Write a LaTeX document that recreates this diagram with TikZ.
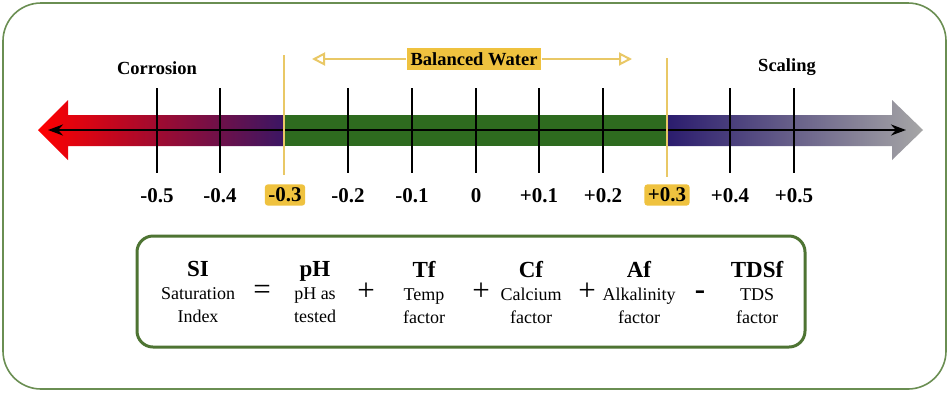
\documentclass[tikz,border=0pt]{standalone}
\usepackage{fontspec}
\setmainfont{Liberation Serif}
\usetikzlibrary{arrows.meta}
\definecolor{framegreen}{HTML}{6A8E52}
\definecolor{boxgreen}{HTML}{4E7433}
\definecolor{bargreen}{HTML}{2E6B1F}
\definecolor{gold}{HTML}{EFC23F}
\definecolor{goldline}{HTML}{E9C866}
\definecolor{darkpurple}{HTML}{3A1664}
\definecolor{navy}{HTML}{2B1C6E}
\definecolor{midred}{HTML}{9A1230}
\tikzset{
  tick/.style={line width=2.6pt, black},
  goldvline/.style={line width=2.4pt, goldline},
  ticklabel/.style={font=\fontsize{21}{22}\selectfont\bfseries, inner sep=2pt},
  goldlabel/.style={ticklabel, fill=gold, rounded corners=3pt, inner sep=3.5pt},
  heading/.style={font=\fontsize{18.5}{20}\selectfont\bfseries},
  term/.style={font=\fontsize{18}{23}\selectfont, align=center, inner sep=0pt},
  op/.style={font=\fontsize{31}{30}\selectfont, inner sep=0pt},
}
\newcommand{\termtitle}[1]{{\fontsize{23}{23}\selectfont\bfseries #1}}
\begin{document}
\begin{tikzpicture}[x=1pt,y=-1pt]
\useasboundingbox (0,0) rectangle (949,392);
% outer frame
\draw[framegreen, line width=1.6pt, rounded corners=38pt, fill=white] (3,3) rectangle (946,389);
% left (corrosion) arrow
\shade[left color=red, middle color=midred, right color=darkpurple]
  (38,130) -- (68,100) -- (68,115) -- (285,115) -- (285,146) -- (68,146) -- (68,160) -- cycle;
% balanced band
\fill[bargreen] (284,115) rectangle (668,146);
% right (scaling) arrow
\shade[left color=navy, middle color=navy!50!gray!80, right color=gray!70]
  (667,115) -- (892,115) -- (892,100) -- (923,130) -- (892,160) -- (892,146) -- (667,146) -- cycle;
% axis
\coordinate (axL) at (48,130);
\coordinate (axR) at (906,130);
\draw[line width=2.2pt, {Stealth[length=15pt,width=11pt]}-{Stealth[length=15pt,width=11pt]}] (axL) -- (axR);
% ticks and labels
\foreach \x/\lab/\nm in {157/-0.5/m5, 220/-0.4/m4, 348/-0.2/m2, 412/-0.1/m1, 476/0/z, 539/+0.1/p1, 603/+0.2/p2, 730/+0.4/p4, 794/+0.5/p5}{
  \draw[tick] (\x,88) -- (\x,173);
  \node[ticklabel] (l\nm) at (\x,196) {\lab};
}
\draw[goldvline] (284,55) -- (284,175);
\draw[goldvline] (667,58) -- (667,177);
\node[goldlabel] (lm3) at (285,195) {-0.3};
\node[goldlabel] (lp3) at (667,195) {+0.3};
% headings
\node[heading] (corr) at (157,68) {Corrosion};
\node[heading] (scal) at (787,67) {Scaling};
% balanced water
\node[heading, fill=gold, inner sep=4pt] (bw) at (474,59) {Balanced Water};
\coordinate (bwL) at (312,59);
\coordinate (bwR) at (632,59);
\draw[goldline, line width=2pt, -{Triangle[open,length=13pt,width=13pt]}] (bw.west) -- (bwL);
\draw[goldline, line width=2pt, -{Triangle[open,length=13pt,width=13pt]}] (bw.east) -- (bwR);
% formula box
\draw[boxgreen, line width=3pt, rounded corners=16pt] (137,236) rectangle (805,347);
\node[term] (si) at (198,292) {\termtitle{SI}\\Saturation\\Index};
\node[op] (eq) at (262,292) {=};
\node[term] (ph) at (315,292) {\termtitle{pH}\\pH as\\tested};
\node[op] (pl1) at (366,292) {+};
\node[term] (tf) at (424,292) {\termtitle{Tf}\\Temp\\factor};
\node[op] (pl2) at (481,292) {+};
\node[term] (cf) at (531,292) {\termtitle{Cf}\\Calcium\\factor};
\node[op] (pl3) at (587,292) {+};
\node[term] (af) at (639,292) {\termtitle{Af}\\Alkalinity\\factor};
\node[op, font=\fontsize{31}{30}\selectfont\bfseries] (mi) at (700,295) {-};
\node[term] (tds) at (757,292) {\termtitle{TDSf}\\TDS\\factor};
\end{tikzpicture}
\end{document}
